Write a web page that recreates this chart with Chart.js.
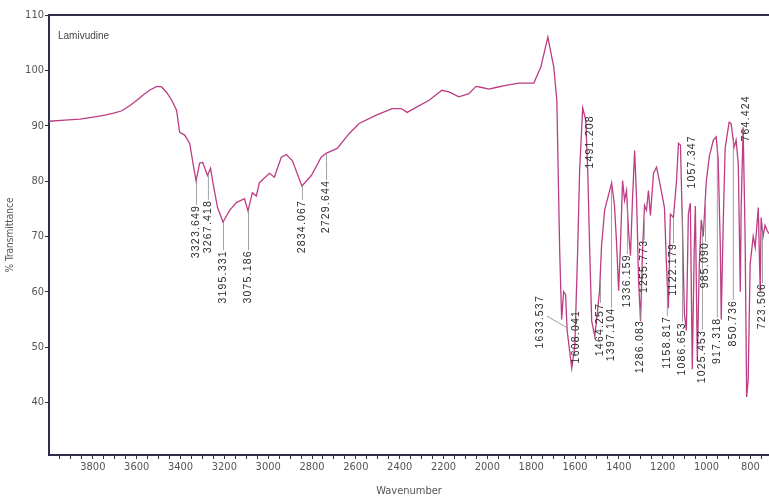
<!DOCTYPE html>
<html>
<head>
<meta charset="utf-8">
<script src="https://cdn.jsdelivr.net/npm/chart.js@4.4.1/dist/chart.umd.min.js"></script>
<style>
  html, body { margin: 0; padding: 0; background: #ffffff; }
  #wrap { width: 769px; height: 500px; position: relative; }
</style>
</head>
<body>
<div id="wrap"><canvas id="c" width="769" height="500"></canvas></div>
<script>
// ---- data ----
const sampleName = "Lamivudine";
const wavenumber = [4000,3927,3859,3791,3745,3700,3668,3632,3609,3572,3541,3509,3486,3463,3440,3418,3404,3381,3358,3345,3329,3313,3299,3277,3263,3254,3231,3206,3176,3145,3108,3092,3072,3054,3040,2994,2972,2940,2917,2890,2846,2803,2758,2736,2685,2630,2585,2507,2434,2393,2366,2325,2266,2207,2175,2130,2084,2052,2025,1993,1961,1916,1856,1788,1756,1724,1697,1683,1670,1661,1652,1643,1636,1615,1601,1588,1579,1565,1551,1542,1533,1524,1510,1497,1488,1479,1465,1433,1420,1411,1401,1392,1383,1374,1365,1356,1347,1338,1328,1319,1310,1301,1292,1283,1274,1265,1256,1242,1228,1210,1192,1183,1174,1165,1151,1137,1128,1119,1110,1101,1092,1083,1074,1065,1056,1051,1042,1033,1024,1015,1001,987,969,956,947,937,933,924,915,897,888,874,865,855,846,842,833,824,817,810,801,787,778,764,755,751,742,733,723,715];
const transmittance = [90.8,91.0,91.2,91.6,91.9,92.3,92.7,93.6,94.3,95.5,96.4,97.1,97.0,96.0,94.6,92.8,88.8,88.3,86.8,83.7,80.0,83.2,83.4,81.0,82.3,80.1,75.2,72.6,74.7,76.1,76.8,74.6,77.9,77.3,79.7,81.4,80.7,84.3,84.8,83.7,79.1,81.0,84.3,85.0,85.9,88.6,90.4,91.9,93.1,93.1,92.4,93.3,94.6,96.4,96.1,95.2,95.8,97.1,96.9,96.6,96.9,97.3,97.7,97.7,100.6,106.0,100.6,94.6,67.4,55.0,60.0,59.5,53.0,46.2,50.2,67.4,81.9,93.2,91.0,81.9,67.4,54.7,52.0,56.6,60.2,68.3,74.7,79.7,75.6,69.2,60.2,69.2,80.1,76.5,78.3,71.0,66.5,76.5,85.5,76.5,62.0,54.7,67.4,75.6,74.7,78.3,73.8,81.4,82.5,79.0,75.2,65.0,57.0,74.0,73.4,80.0,86.8,86.5,72.0,56.0,53.0,74.0,76.0,46.0,68.0,75.5,47.5,65.0,73.0,70.0,80.0,84.5,87.4,88.0,84.0,68.0,55.0,72.0,86.0,90.6,90.4,86.1,87.4,83.0,60.0,75.0,89.7,70.0,41.0,44.0,65.0,70.0,68.0,75.2,60.0,73.4,70.0,72.0,71.0,70.5];

// peak labels (text) and where they sit on the axes (wavenumber, %T of text top)
const peakLabels = ["3323.649","3267.418","3195.331","3075.186","2834.067","2729.644","1633.537","1608.041","1491.208","1464.257","1397.104","1336.159","1286.083","1255.773","1158.817","1122.179","1086.653","1057.347","1025.453","985.090","917.318","850.736","764.424","723.506"];
const peakAt =    [3329,3275,3206,3092,2846,2736,1760,1596,1532,1486,1436,1363,1304,1286,1181,1153,1112,1067,1021,1007,953,880,820,747];
const labelTop =  [75.7,76.6,67.5,67.5,76.6,80.2,59.4,56.7,91.9,58.0,57.1,66.8,54.9,69.4,55.6,68.8,54.5,88.3,53.1,69.0,55.3,58.5,95.5,61.6];
const peakAbove = [false,false,false,false,false,false,false,false,true,false,false,false,false,false,false,false,false,true,false,false,false,false,true,false];
const leaderFrom = {6: [1728, 55.6, 1637, 53.5]};

const xMajor = [800,1000,1200,1400,1600,1800,2000,2200,2400,2600,2800,3000,3200,3400,3600,3800];
const yTicks = [40,50,60,70,80,90,100,110];

const points = wavenumber.map((w, i) => ({x: w, y: transmittance[i]}));

function curveAt(w) {
  for (let i = 0; i < wavenumber.length - 1; i++) {
    const a = wavenumber[i], b = wavenumber[i + 1];
    if (w <= a && w >= b) {
      const t = (a - w) / (a - b);
      return transmittance[i] + t * (transmittance[i + 1] - transmittance[i]);
    }
  }
  return null;
}

const labelFont = '10.5px "Liberation Sans", Arial, sans-serif';

const overlay = {
  id: 'overlay',
  afterDatasetsDraw(chart) {
    const ctx = chart.ctx, xs = chart.scales.x, ys = chart.scales.y, ca = chart.chartArea;
    ctx.save();
    // top frame line
    ctx.strokeStyle = '#2e2e4a';
    ctx.lineWidth = 2;
    ctx.beginPath();
    ctx.moveTo(ca.left, ca.top);
    ctx.lineTo(ca.right, ca.top);
    ctx.stroke();
    // sample name
    ctx.fillStyle = '#444';
    ctx.font = '10px "Liberation Sans", Arial, sans-serif';
    ctx.textBaseline = 'middle';
    ctx.textAlign = 'left';
    ctx.fillText(sampleName, ca.left + 9, ca.top + 21);
    // peak labels
    peakLabels.forEach((txt, i) => {
      const px = xs.getPixelForValue(peakAt[i]);
      const pyTop = ys.getPixelForValue(labelTop[i]);
      ctx.strokeStyle = '#8a8a8a';
      ctx.lineWidth = 0.8;
      if (leaderFrom[i]) {
        const L = leaderFrom[i];
        ctx.beginPath();
        ctx.moveTo(xs.getPixelForValue(L[0]), ys.getPixelForValue(L[1]));
        ctx.lineTo(xs.getPixelForValue(L[2]), ys.getPixelForValue(L[3]));
        ctx.stroke();
      } else if (!peakAbove[i]) {
        const cv = curveAt(peakAt[i]);
        if (cv !== null && cv > labelTop[i]) {
          ctx.beginPath();
          ctx.moveTo(px + 0.5, ys.getPixelForValue(cv));
          ctx.lineTo(px + 0.5, pyTop);
          ctx.stroke();
        }
      }
      ctx.save();
      ctx.translate(px, pyTop);
      ctx.rotate(-Math.PI / 2);
      ctx.fillStyle = '#2a2a2a';
      ctx.font = labelFont;
      try { ctx.letterSpacing = '1.2px'; } catch (e) {}
      ctx.textAlign = 'right';
      ctx.textBaseline = 'middle';
      ctx.fillText(txt, 0, 0);
      ctx.restore();
    });
    ctx.restore();
  }
};

new Chart(document.getElementById('c'), {
  type: 'line',
  data: {
    datasets: [{
      data: points,
      borderColor: '#bd3c84',
      borderWidth: 1.3,
      pointRadius: 0,
      tension: 0,
      fill: false
    }]
  },
  options: {
    responsive: false,
    animation: false,
    layout: { padding: { top: 15, right: 0, left: 0, bottom: 0 } },
    plugins: { legend: { display: false }, tooltip: { enabled: false } },
    scales: {
      x: {
        type: 'linear',
        reverse: true,
        min: 715,
        max: 4000,
        afterBuildTicks(scale) {
          const t = [];
          for (let v = 750; v <= 3950; v += 50) t.push({value: v});
          scale.ticks = t;
        },
        afterFit(scale) { scale.height = 45; },
        ticks: {
          autoSkip: false,
          maxRotation: 0,
          padding: 2,
          color: '#555',
          font: { family: '"Liberation Sans Narrow", "DejaVu Sans Condensed", "Liberation Sans", sans-serif', size: 11 },
          callback: (v) => xMajor.includes(v) ? String(v) : ''
        },
        grid: {
          drawOnChartArea: false,
          tickLength: 4,
          tickColor: '#333',
          tickWidth: 1
        },
        border: { display: true, color: '#2e2e4a', width: 2 },
        title: {
          display: true,
          text: 'Wavenumber',
          color: '#555',
          font: { family: '"Liberation Sans Narrow", "DejaVu Sans Condensed", "Liberation Sans", sans-serif', size: 11 },
          padding: { top: 0, bottom: 2 }
        }
      },
      y: {
        type: 'linear',
        min: 30.5,
        max: 110,
        afterBuildTicks(scale) { scale.ticks = yTicks.map(v => ({value: v})); },
        afterFit(scale) { scale.width = 49; },
        ticks: {
          padding: 1,
          color: '#555',
          font: { family: '"Liberation Sans Narrow", "DejaVu Sans Condensed", "Liberation Sans", sans-serif', size: 11 }
        },
        grid: {
          drawOnChartArea: false,
          tickLength: 4,
          tickColor: '#333',
          tickWidth: 1
        },
        border: { display: true, color: '#2e2e4a', width: 2 },
        title: {
          display: true,
          text: '% Transmittance',
          color: '#555',
          font: { family: '"Liberation Sans Narrow", "DejaVu Sans Condensed", "Liberation Sans", sans-serif', size: 10 },
          padding: { top: 4, bottom: 0 }
        }
      }
    }
  },
  plugins: [overlay]
});
</script>
</body>
</html>
